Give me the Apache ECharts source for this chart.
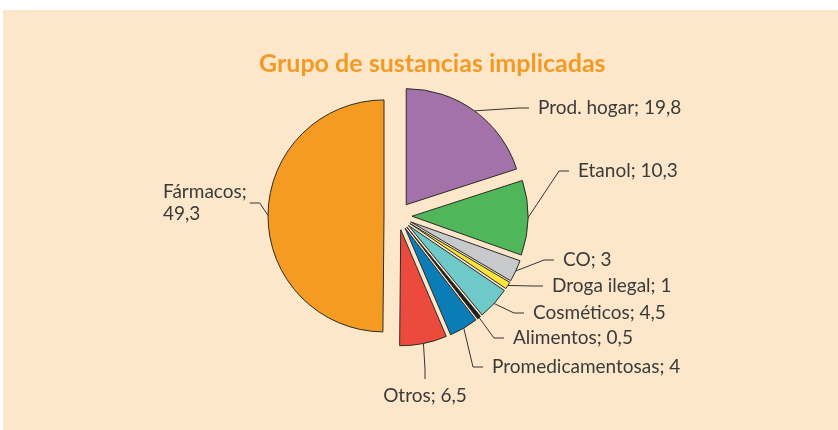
<!DOCTYPE html>
<html>
<head>
<meta charset="utf-8">
<script src="https://cdn.jsdelivr.net/npm/echarts@6/dist/echarts.min.js"></script>
<style>
  html, body { margin: 0; padding: 0; background: #ffffff; }
  #chart { width: 838px; height: 430px; }
</style>
</head>
<body>
<div id="chart"></div>
<script>
const categories = ['Prod. hogar', 'Etanol', 'CO', 'Droga ilegal', 'Cosméticos', 'Alimentos', 'Promedicamentosas', 'Otros', 'Fármacos'];
const values = [19.8, 10.3, 3, 1, 4.5, 0.5, 4, 6.5, 49.3];
const colors = ['#a272a8', '#4fb75a', '#c8c9cb', '#fbe53c', '#6fc9c9', '#1e1e1e', '#0a7db7', '#ec4a3c', '#f59b21'];

// label placement (layout only): x = outer edge of padded label box
const labelPlace = {
  'Prod. hogar': { x: 529, y: 108, align: 'left', pad: [0, 9, 0, 9] },
  'Etanol': { x: 569, y: 171, align: 'left', pad: [0, 9, 0, 9] },
  'CO': { x: 554, y: 260, align: 'left', pad: [0, 9, 0, 9] },
  'Droga ilegal': { x: 543, y: 286, align: 'left', pad: [0, 9, 0, 9] },
  'Cosméticos': { x: 524, y: 313, align: 'left', pad: [0, 9, 0, 9] },
  'Alimentos': { x: 504, y: 338, align: 'left', pad: [0, 9, 0, 9] },
  'Promedicamentosas': { x: 483, y: 367, align: 'left', pad: [0, 9, 0, 9] },
  'Otros': { x: 425, y: 396, align: 'center', pad: [6, 0, 6, 0] },
  'Fármacos': { x: 160, y: 203, align: 'left', pad: [0, 3, 0, 3] }
};

const fmt = v => String(v).replace('.', ',');
const CENTER = [398, 216];
const R = 116;
const OFFSET = 14;

const chart = echarts.init(document.getElementById('chart'), null, { renderer: 'canvas' });
chart.setOption({
  animation: false,
  backgroundColor: '#ffffff',
  graphic: [{
    type: 'rect', z: -10, silent: true,
    shape: { x: 3, y: 10, width: 835, height: 420 },
    style: { fill: '#fde7ca' }
  }],
  title: {
    text: 'Grupo de sustancias implicadas',
    left: 254, top: 46,
    textStyle: { fontFamily: 'Lato', fontWeight: 'bold', fontSize: 25, color: '#f39a26' }
  },
  series: [{
    // exploded slices
    type: 'pie',
    center: CENTER,
    radius: R,
    startAngle: 90,
    clockwise: true,
    selectedMode: 'multiple',
    selectedOffset: OFFSET,
    avoidLabelOverlap: false,
    emphasis: { disabled: true },
    silent: true,
    itemStyle: { borderColor: '#2b2b2b', borderWidth: 1 },
    select: { itemStyle: { borderColor: '#2b2b2b', borderWidth: 1 } },
    label: { show: false },
    labelLine: { show: false },
    data: categories.map((c, i) => ({
      name: c, value: values[i], selected: true,
      itemStyle: { color: colors[i] },
      select: { itemStyle: { color: colors[i] } }
    }))
  }, {
    // labels with leader lines, attached to the outer edge of the exploded slices
    type: 'pie',
    center: CENTER,
    radius: R + OFFSET,
    startAngle: 90,
    clockwise: true,
    avoidLabelOverlap: false,
    emphasis: { disabled: true },
    silent: true,
    z: 3,
    itemStyle: { color: 'rgba(0,0,0,0)', borderWidth: 0 },
    label: {
      show: true,
      position: 'outside',
      fontFamily: 'Lato',
      fontSize: 19,
      lineHeight: 22,
      color: '#3a3a3a',
      backgroundColor: 'rgba(0,0,0,0)',
      formatter: p => p.name === 'Fármacos' ? p.name + ';\n' + fmt(p.value) : p.name + '; ' + fmt(p.value)
    },
    labelLine: { show: true, length: 15, length2: 10, lineStyle: { color: '#333333', width: 1 } },
    labelLayout: p => {
      const pl = labelPlace[categories[p.dataIndex]];
      return { x: pl.x, y: pl.y, align: pl.align, verticalAlign: 'middle' };
    },
    data: categories.map((c, i) => ({
      name: c, value: values[i],
      label: { padding: labelPlace[c].pad }
    }))
  }]
});
</script>
</body>
</html>
